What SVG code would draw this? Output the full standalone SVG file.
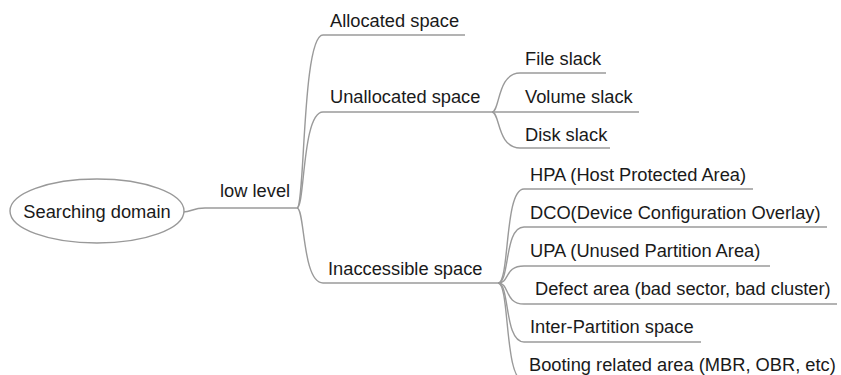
<svg xmlns="http://www.w3.org/2000/svg" width="841" height="375" viewBox="0 0 841 375">
<style>
.t{font-family:"Liberation Sans",Arial,sans-serif;font-size:18.3px;fill:#1a1a1a}
.c{fill:none;stroke:#9a9a9a;stroke-width:1.4}
</style>
<rect width="841" height="375" fill="#fff"/>
<g id="connectors" class="c">
<path d="M183,212 C192,212 192,208 205,208 L297,208"/>
<path d="M297,208 C305,208 302,35 323,35 L465,35"/>
<path d="M297,208 C305,208 302,112 323,112 L492,112"/>
<path d="M297,208 C305,208 302,283 323,283 L498,283"/>
<path d="M492,112 C500,112 497,73 520,73 L606,73"/>
<path d="M492,112 L639,112"/>
<path d="M492,112 C500,112 497,148 520,148 L610,148"/>
<path d="M498,283 C510,283 504,189 524,189 L753,189"/>
<path d="M498,283 C510,283 504,227 524,227 L827,227"/>
<path d="M498,283 C510,283 504,266 524,266 L770,266"/>
<path d="M498,283 C510,283 504,304 524,304 L837,304"/>
<path d="M498,283 C510,283 504,342 524,342 L701,342"/>
<path d="M498,283 C510,283 504,381 524,381 L840,381"/>
</g>
<g id="root">
<ellipse cx="97" cy="211" rx="87" ry="32" fill="#fff" stroke="#999" stroke-width="1.4"/>
<text class="t" x="97" y="218" text-anchor="middle">Searching domain</text>
</g>
<g id="low-level"><text class="t" x="220" y="197">low level</text></g>
<g id="allocated"><text class="t" x="330" y="27">Allocated space</text></g>
<g id="unallocated"><text class="t" x="330" y="103">Unallocated space</text></g>
<g id="file-slack"><text class="t" x="525" y="65">File slack</text></g>
<g id="volume-slack"><text class="t" x="525" y="103">Volume slack</text></g>
<g id="disk-slack"><text class="t" x="525" y="141">Disk slack</text></g>
<g id="inaccessible"><text class="t" x="328" y="275">Inaccessible space</text></g>
<g id="hpa"><text class="t" x="530" y="181">HPA (Host Protected Area)</text></g>
<g id="dco"><text class="t" x="530" y="219">DCO(Device Configuration Overlay)</text></g>
<g id="upa"><text class="t" x="530" y="257">UPA (Unused Partition Area)</text></g>
<g id="defect"><text class="t" x="535" y="295">Defect area (bad sector, bad cluster)</text></g>
<g id="inter-partition"><text class="t" x="530" y="333">Inter-Partition space</text></g>
<g id="booting"><text class="t" x="529" y="371">Booting related area (MBR, OBR, etc)</text></g>
</svg>
